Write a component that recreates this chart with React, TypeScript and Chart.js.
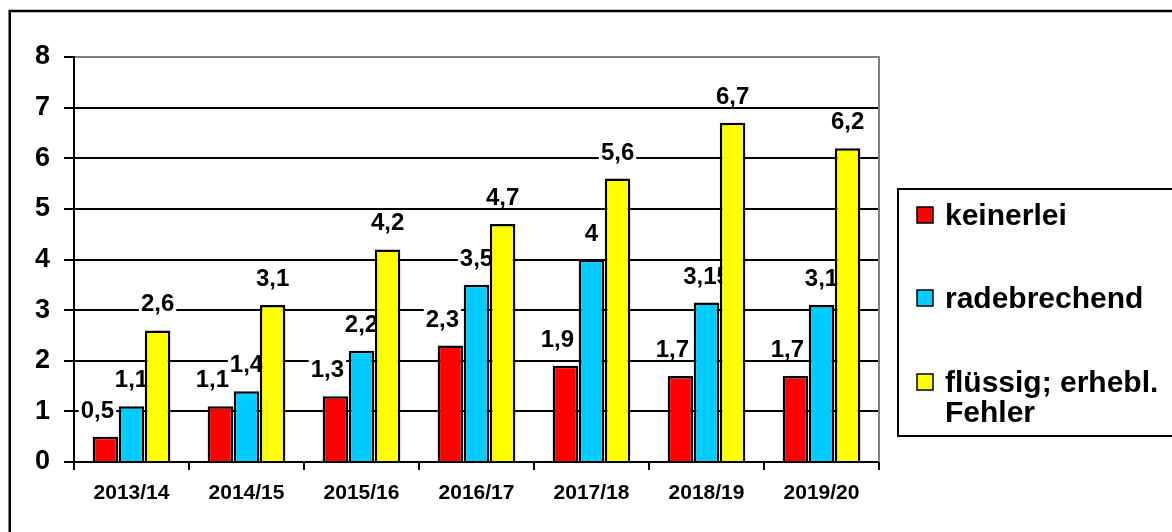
import React, { useEffect, useRef } from "react";
import { Chart, registerables } from "chart.js";

Chart.register(...registerables);

const categories = ["2013/14", "2014/15", "2015/16", "2016/17", "2017/18", "2018/19", "2019/20"];
const keinerlei = [0.5, 1.1, 1.3, 2.3, 1.9, 1.7, 1.7];
const radebrechend = [1.1, 1.4, 2.2, 3.5, 4, 3.15, 3.1];
const fluessig = [2.6, 3.1, 4.2, 4.7, 5.6, 6.7, 6.2];
const seriesLabels = ["keinerlei", "radebrechend", "flüssig; erhebl. Fehler"];
const legendLines = [["keinerlei"], ["radebrechend"], ["flüssig; erhebl.", "Fehler"]];
const seriesColors = ["#FF0000", "#00CCFF", "#FFFF00"];
const yMin = 0;
const yMax = 8;
const yStep = 1;

const FONT = "'Liberation Sans', Arial, Helvetica, sans-serif";
const labelShift = [-8, 0, 0];

const fmt = (v: number) => String(v).replace(".", ",");

const decorPlugin = {
  id: "decor",
  beforeDatasetsDraw(chart: any) {
    const ctx = chart.ctx;
    ctx.save();
    ctx.font = `bold 24px ${FONT}`;
    ctx.textAlign = "center";
    ctx.textBaseline = "alphabetic";
    chart.data.datasets.forEach((ds: any, di: number) => {
      const meta = chart.getDatasetMeta(di);
      meta.data.forEach((bar: any, i: number) => {
        const txt = fmt(ds.data[i]);
        const x = bar.x + labelShift[di];
        const y = bar.y - 19;
        const w = ctx.measureText(txt).width;
        ctx.fillStyle = "#FFFFFF";
        ctx.fillRect(x - w / 2 - 2, y - 19, w + 4, 21.5);
        ctx.fillStyle = "#000000";
        ctx.fillText(txt, x, y);
      });
    });
    ctx.restore();
  },
  afterDraw(chart: any) {
    const ctx = chart.ctx;
    const area = chart.chartArea;
    ctx.save();
    // grey plot-area right border
    ctx.strokeStyle = "#808080";
    ctx.lineWidth = 2;
    ctx.beginPath();
    ctx.moveTo(area.right, area.top - 1);
    ctx.lineTo(area.right, area.bottom);
    ctx.stroke();
    // outer chart border
    ctx.strokeStyle = "#000000";
    ctx.lineWidth = 2.5;
    ctx.strokeRect(9.75, 11, 3000, 3000);
    // legend box
    ctx.lineWidth = 2;
    ctx.strokeRect(898, 189, 400, 247);
    const baselines = [225, 308, 392];
    ctx.font = `bold 30px ${FONT}`;
    ctx.textAlign = "left";
    ctx.textBaseline = "alphabetic";
    legendLines.forEach((lines, i) => {
      const b = baselines[i];
      ctx.fillStyle = seriesColors[i];
      ctx.fillRect(917, b - 18, 16, 16);
      ctx.lineWidth = 1.5;
      ctx.strokeStyle = "#000000";
      ctx.strokeRect(917, b - 18, 16, 16);
      ctx.fillStyle = "#000000";
      lines.forEach((ln, k) => ctx.fillText(ln, 945, b + k * 30));
    });
    ctx.restore();
  },
};

export default function App() {
  const ref = useRef<HTMLCanvasElement>(null);
  useEffect(() => {
    if (!ref.current) return;
    const series = [keinerlei, radebrechend, fluessig];
    const chart = new Chart(ref.current, {
      type: "bar",
      data: {
        labels: categories,
        datasets: series.map((d, i) => ({
          label: seriesLabels[i],
          data: d,
          backgroundColor: seriesColors[i],
          borderColor: "#000000",
          borderWidth: 2.5,
          categoryPercentage: 0.68,
          barPercentage: 0.98,
        })),
      },
      options: {
        responsive: false,
        animation: false,
        devicePixelRatio: 1,
        layout: { padding: { left: 0, top: 57, right: 293, bottom: 0 } },
        plugins: {
          legend: { display: false },
          tooltip: { enabled: false },
          title: { display: false },
        },
        scales: {
          x: {
            grid: {
              offset: true,
              drawOnChartArea: false,
              drawTicks: true,
              tickLength: 8,
              color: "#000000",
              lineWidth: 2,
            },
            border: { display: true, color: "#000000", width: 2 },
            ticks: {
              color: "#000000",
              font: { family: FONT, size: 21, weight: "bold" },
              padding: 11,
              maxRotation: 0,
              autoSkip: false,
            },
            afterFit: (s: any) => {
              s.height = 70;
            },
          },
          y: {
            min: yMin,
            max: yMax,
            ticks: {
              stepSize: yStep,
              color: "#000000",
              font: { family: FONT, size: 27, weight: "bold" },
              padding: 14,
            },
            grid: {
              color: (c: any) => (c.tick && c.tick.value === yMax ? "#808080" : "#000000"),
              tickColor: "#000000",
              lineWidth: 2,
              tickLength: 10,
              drawTicks: true,
            },
            border: { display: true, color: "#000000", width: 2 },
            afterFit: (s: any) => {
              s.width = 74;
            },
          },
        },
      },
      plugins: [decorPlugin],
    });
    return () => chart.destroy();
  }, []);
  return (
    <div style={{ position: "absolute", left: 0, top: 0, width: 1172, height: 532, background: "#FFFFFF" }}>
      <canvas ref={ref} width={1172} height={532} style={{ width: 1172, height: 532, display: "block" }} />
    </div>
  );
}
